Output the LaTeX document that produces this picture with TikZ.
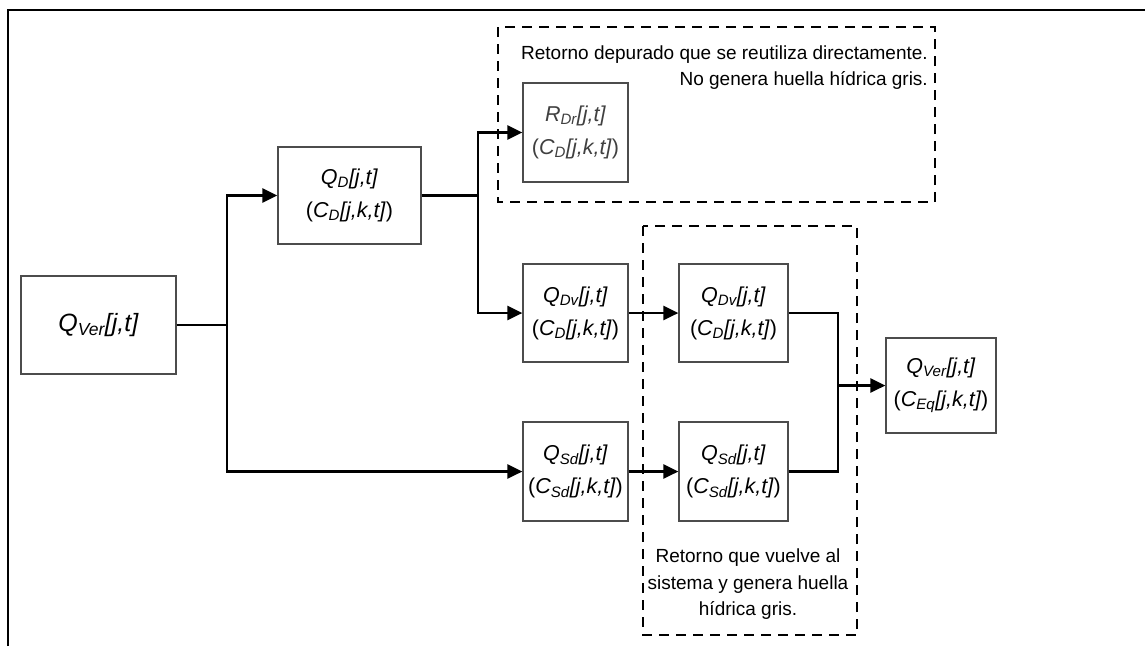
\documentclass[tikz,border=0pt]{standalone}
\usepackage{fontspec}
\setmainfont{Liberation Sans}
\usetikzlibrary{arrows.meta}
\newcommand{\ql}[3]{\textit{#1\textsubscript{#2}[#3]}}
\begin{document}
\begin{tikzpicture}[x=1pt,y=-1pt,
  blk/.style={draw=black!70, line width=1.2pt, fill=white, inner sep=0pt, align=center,
    font=\fontsize{21.5}{33}\selectfont},
  conn/.style={line width=2.7pt, -{Triangle[length=15pt,width=14pt]}},
  wire/.style={line width=2.7pt},
  dbox/.style={line width=2.2pt, dash pattern=on 10pt off 7pt},
  note/.style={font=\fontsize{19}{26.5}\selectfont, inner sep=0pt}]
\useasboundingbox (0,0) rectangle (1145,646);
% outer frame (cropped)
\draw[line width=2.2pt] (8,646) -- (8,10) -- (1145,10);
% dashed groups
\draw[dbox] (498,27) rectangle (935,202);
\draw[dbox] (643,226) rectangle (857,635);
% blocks
\node[blk, minimum width=155pt, minimum height=98pt, font=\fontsize{25}{33}\selectfont] (qver) at (98.5,325) {\ql{Q}{Ver}{j,t}};
\node[blk, minimum width=143pt, minimum height=97pt] (qd) at (349.5,195.5) {\ql{Q}{D}{j,t}\\(\ql{C}{D}{j,k,t})};
\node[blk, minimum width=105pt, minimum height=99pt, text=black!75] (rdr) at (575.5,132.5) {\ql{R}{Dr}{j,t}\\(\ql{C}{D}{j,k,t})};
\node[blk, minimum width=105pt, minimum height=98pt] (dv1) at (575.5,313) {\ql{Q}{Dv}{j,t}\\(\ql{C}{D}{j,k,t})};
\node[blk, minimum width=109pt, minimum height=98pt] (dv2) at (733.5,313) {\ql{Q}{Dv}{j,t}\\(\ql{C}{D}{j,k,t})};
\node[blk, minimum width=105pt, minimum height=99pt] (sd1) at (575.5,471.5) {\ql{Q}{Sd}{j,t}\\(\ql{C}{Sd}{j,k,t})};
\node[blk, minimum width=109pt, minimum height=99pt] (sd2) at (733.5,471.5) {\ql{Q}{Sd}{j,t}\\(\ql{C}{Sd}{j,k,t})};
\node[blk, minimum width=110pt, minimum height=95pt] (out) at (941,385.5) {\ql{Q}{Ver}{j,t}\\(\ql{C}{Eq}{j,k,t})};
% notes
\node[note, anchor=east, align=right] (n1) at (928,67.5) {Retorno depurado que se reutiliza directamente.\\No genera huella hídrica gris.};
\node[note, align=center] (n2) at (748,584.5) {Retorno que vuelve al\\sistema y genera huella\\hídrica gris.};
% junctions
\coordinate (b1) at (227,325);
\coordinate (b2) at (478,195.5);
\coordinate (b3) at (838,385.5);
% connectors
\draw[wire] (qver.east) -- (b1);
\draw[conn] (b1) |- (qd.west);
\draw[conn] (b1) |- (sd1.west);
\draw[wire] (qd.east) -- (b2);
\draw[conn] (b2) |- (rdr.west);
\draw[conn] (b2) |- (dv1.west);
\draw[conn] (dv1.east) -- (dv2.west);
\draw[conn] (sd1.east) -- (sd2.west);
\draw[wire] (dv2.east) -| (b3);
\draw[wire] (sd2.east) -| (b3);
\draw[conn] (b3) -- (out.west);
\end{tikzpicture}
\end{document}
